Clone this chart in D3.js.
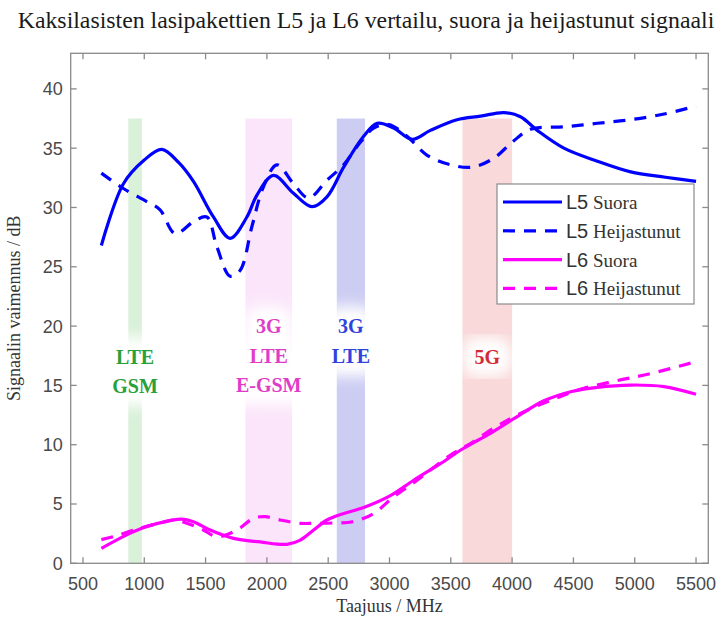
<!DOCTYPE html>
<html><head><meta charset="utf-8">
<script src="https://cdn.jsdelivr.net/npm/d3@7"></script>
<style>body{margin:0;background:#fff}</style>
</head><body>
<svg id="c" width="724" height="624"></svg>
<script>
// ---- data ----
const titleText = "Kaksilasisten lasipakettien L5 ja L6 vertailu, suora ja heijastunut signaali";
const xLabel = "Taajuus / MHz";
const yLabel = "Signaalin vaimennus / dB";
const xTicks = [500,1000,1500,2000,2500,3000,3500,4000,4500,5000,5500];
const yTicks = [0,5,10,15,20,25,30,35,40];

const l5SuoraF  = [650,830,1000,1143,1280,1401,1564,1700,1837,1919,2054,2217,2368,2490,2626,2789,2900,3034,3184,3333,3551,3742,3932,4068,4205,4422,4695,4967,5250,5500];
const l5SuoraDB = [26.8,32.0,34.0,34.9,33.8,32.2,29.2,27.4,29.2,31.05,32.7,31.2,30.07,30.9,33.4,36.0,37.1,36.7,35.75,36.5,37.4,37.7,38.0,37.65,36.5,35.0,33.9,33.0,32.55,32.2];

const l5HeijF  = [650,830,1020,1129,1252,1401,1510,1592,1700,1782,1878,1972,2082,2217,2340,2490,2626,2762,2871,2993,3143,3307,3497,3674,3850,4000,4150,4422,4695,4967,5250,5500];
const l5HeijDB = [32.9,31.6,30.5,29.8,27.8,28.8,29.2,26.7,24.2,24.7,28.4,31.75,33.6,32.0,30.8,32.3,33.6,35.5,36.7,37.0,36.0,34.4,33.6,33.4,34.15,35.5,36.6,36.8,37.1,37.4,37.9,38.55];

const l6SuoraF  = [650,857,1020,1211,1306,1401,1537,1728,1946,2163,2272,2381,2490,2626,2789,3007,3197,3415,3605,3823,4041,4259,4477,4695,4967,5238,5500];
const l6SuoraDB = [1.26,2.4,3.1,3.6,3.73,3.5,2.8,2.1,1.8,1.6,1.96,2.8,3.65,4.2,4.7,5.7,7.0,8.4,9.7,10.96,12.36,13.7,14.47,14.84,15.03,14.9,14.25];

const l6HeijF  = [650,748,939,1129,1238,1456,1592,1755,1891,1986,2109,2272,2381,2544,2700,2871,3034,3225,3497,3660,3850,4041,4340,4585,4857,5130,5500];
const l6HeijDB = [2.0,2.25,2.87,3.4,3.65,2.95,2.25,2.8,3.8,3.93,3.65,3.37,3.37,3.4,3.5,4.2,5.6,7.0,9.13,10.1,11.4,12.5,13.85,14.75,15.4,16.0,17.0];

const seriesNames = ["L5|Suora","L5|Heijastunut","L6|Suora","L6|Heijastunut"];

const bandStart = [870,1825,2570,3595];
const bandEnd   = [980,2205,2800,4000];
const bandTop   = 37.5;
const bandLabels = [["LTE","GSM"],["3G","LTE","E-GSM"],["3G","LTE"],["5G"]];
const bandLabelTopDB = [17.4,20.0,20.0,17.4];

// ---- layout / style ----
const W=724,H=624;
const L=70.7,R=708.3,T=53.3,B=563.3;
const svg=d3.select("#c");
const x=d3.scaleLinear().domain([400,5600]).range([L,R]);
const y=d3.scaleLinear().domain([0,43]).range([B,T]);
const axisCol="#8a8a8a", tickTxt="#4a4a4a";
const sans="'Liberation Sans', Arial, sans-serif";
const serif="'Liberation Serif', 'Times New Roman', serif";
const bandFill=["#d9f0d9","#fbe5fa","#cdcdf3","#f9d9d9"];
const bandText=["#2aa03a","#e03cc8","#3242dc","#d42a32"];

const defs=svg.append("defs");
const f=defs.append("filter").attr("id","glow").attr("x","-50%").attr("y","-50%").attr("width","200%").attr("height","200%");
f.append("feGaussianBlur").attr("stdDeviation",7);

// bands
const bands=svg.append("g");
bandStart.forEach((s,i)=>{
  bands.append("rect").attr("x",x(s)).attr("width",x(bandEnd[i])-x(s))
    .attr("y",y(bandTop)).attr("height",y(0)-y(bandTop)).attr("fill",bandFill[i]);
});
// band labels
bandLabels.forEach((lines,i)=>{
  const cx=x((bandStart[i]+bandEnd[i])/2);
  const g=svg.append("g");
  const mk=(sel)=>lines.forEach((t,j)=>{
    sel.append("text").attr("x",cx).attr("y",y(bandLabelTopDB[i])+7+j*29.5)
      .attr("text-anchor","middle").attr("font-family",serif).attr("font-weight","bold")
      .attr("font-size",20).text(t);
  });
  const halo=g.append("g").attr("filter","url(#glow)").attr("fill","#fff").attr("stroke","#fff")
    .attr("stroke-width",26).attr("stroke-linejoin","round");
  mk(halo);
  const fg=g.append("g").attr("fill",bandText[i]);
  mk(fg);
});

// series
const series=[
  {f:l5SuoraF,v:l5SuoraDB,c:"#0000ff",d:null},
  {f:l5HeijF,v:l5HeijDB,c:"#0000ff",d:"12,9"},
  {f:l6SuoraF,v:l6SuoraDB,c:"#ff00ff",d:null},
  {f:l6HeijF,v:l6HeijDB,c:"#ff00ff",d:"12,9"}
];
const line=d3.line().x(d=>x(d[0])).y(d=>y(d[1])).curve(d3.curveCatmullRom.alpha(0.5));
series.forEach(s=>{
  svg.append("path").datum(s.f.map((ff,i)=>[ff,s.v[i]]))
    .attr("d",line).attr("fill","none").attr("stroke",s.c).attr("stroke-width",3.2)
    .attr("stroke-dasharray",s.d).attr("stroke-linejoin","round");
});

// axes box with inward ticks (MATLAB style)
const ax=svg.append("g").attr("stroke",axisCol).attr("stroke-width",1.3).attr("fill","none");
ax.append("rect").attr("x",L).attr("y",T).attr("width",R-L).attr("height",B-T);
xTicks.forEach(t=>{
  ax.append("line").attr("x1",x(t)).attr("x2",x(t)).attr("y1",B).attr("y2",B-6);
  ax.append("line").attr("x1",x(t)).attr("x2",x(t)).attr("y1",T).attr("y2",T+6);
});
yTicks.forEach(t=>{
  ax.append("line").attr("y1",y(t)).attr("y2",y(t)).attr("x1",L).attr("x2",L+6);
  ax.append("line").attr("y1",y(t)).attr("y2",y(t)).attr("x1",R).attr("x2",R-6);
});
svg.append("g").selectAll("text").data(xTicks).join("text")
  .attr("x",d=>x(d)).attr("y",B+27).attr("text-anchor","middle")
  .attr("font-family",sans).attr("font-size",18).attr("fill",tickTxt).text(d=>d);
svg.append("g").selectAll("text").data(yTicks).join("text")
  .attr("x",L-8).attr("y",d=>y(d)+6.5).attr("text-anchor","end")
  .attr("font-family",sans).attr("font-size",18).attr("fill",tickTxt).text(d=>d);

// axis labels
svg.append("text").attr("x",(L+R)/2).attr("y",612).attr("text-anchor","middle")
  .attr("font-family",serif).attr("font-size",18).attr("fill","#333").text(xLabel);
svg.append("text").attr("transform",`translate(20,${(T+B)/2}) rotate(-90)`).attr("text-anchor","middle")
  .attr("font-family",serif).attr("font-size",18).attr("fill","#333").text(yLabel);

// title
const tt=svg.append("text").attr("x",366).attr("y",28).attr("text-anchor","middle")
  .attr("font-family",serif).attr("font-size",20).attr("fill","#1a1a1a").text(titleText);
const tw=tt.node().getComputedTextLength();
tt.attr("font-size",20*697/tw);

// legend
const lg=svg.append("g");
lg.append("rect").attr("x",497).attr("y",184).attr("width",197).attr("height",120)
  .attr("fill","#fff").attr("stroke",axisCol).attr("stroke-width",1.2);
series.forEach((s,i)=>{
  const cy=202+i*28.8;
  lg.append("line").attr("x1",503).attr("x2",562).attr("y1",cy).attr("y2",cy)
    .attr("stroke",s.c).attr("stroke-width",3.2).attr("stroke-dasharray",s.d);
  const [a,b]=seriesNames[i].split("|");
  const t=lg.append("text").attr("x",566).attr("y",cy+7).attr("fill","#333");
  t.append("tspan").attr("font-family",sans).attr("font-size",20).text(a);
  t.append("tspan").attr("font-family",serif).attr("font-size",19).text(" "+b);
});
</script>
</body></html>
